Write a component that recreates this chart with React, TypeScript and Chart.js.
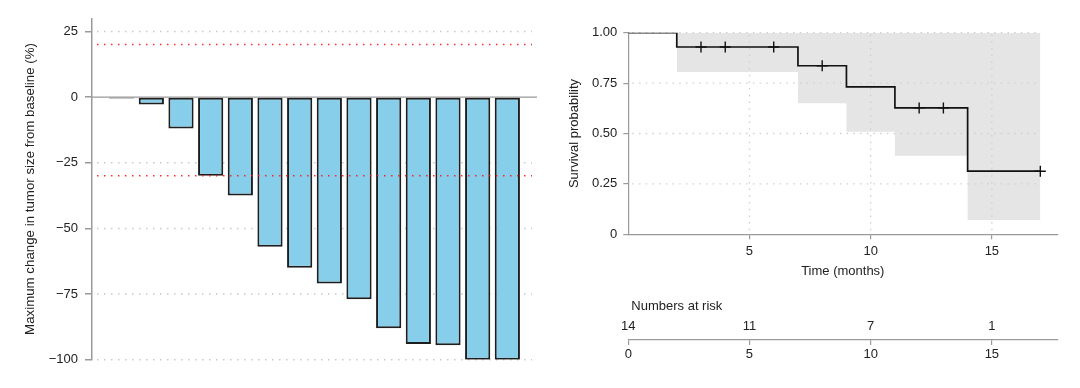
import React, { useEffect, useRef } from 'react';
import { Chart, registerables } from 'chart.js';

Chart.register(...registerables);

const FONT = "'Liberation Sans', Arial, Helvetica, sans-serif";
const TEXT = '#222222';
const AXIS = '#9a9a9a';

// ---------- Waterfall data ----------
const patients = ['1', '2', '3', '4', '5', '6', '7', '8', '9', '10', '11', '12', '13', '14'];
const tumorChange = [-0.5, -2.8, -12, -30, -37.5, -57, -65, -71, -77, -88, -94, -94.5, -100, -100];
const waterfallYTicks = [25, 0, -25, -50, -75, -100];
const waterfallYLabels = ['25', '0', '\u221225', '\u221250', '\u221275', '\u2212100'];
const waterfallGrid = [25, -25, -50, -75, -100];
const thresholdLines = [20, -30];

// ---------- Kaplan-Meier data ----------
const kmTimes = [0, 2, 7, 9, 11, 14, 17];
const kmSurv = [1, 0.929, 0.836, 0.731, 0.627, 0.313, 0.313];
const ciTimes = [2, 7, 9, 11, 14, 17];
const ciUpper = [1, 1, 1, 1, 1, 1];
const ciLower = [0.805, 0.65, 0.509, 0.39, 0.071, 0.071];
const censorTimes = [3, 4, 6, 8, 12, 13, 17];
const censorSurv = [0.929, 0.929, 0.929, 0.836, 0.627, 0.627, 0.313];
const kmXTicks = [5, 10, 15];
const kmYTicks = [0, 0.25, 0.5, 0.75, 1];
const kmYLabels = ['0', '0.25', '0.50', '0.75', '1.00'];
const kmGridX = [5, 10, 15];
const kmGridY = [0.25, 0.5, 0.75, 1];

// ---------- Numbers at risk ----------
const riskTimes = [0, 5, 10, 15];
const riskCounts = [14, 11, 7, 1];
const riskAxisTicks = [0, 5, 10, 15];

const tickFont = { family: FONT, size: 13 };

const waterfallLinesPlugin = {
  id: 'waterfallLines',
  beforeDatasetsDraw(chart: any) {
    const { ctx, chartArea, scales } = chart;
    const y = scales.y;
    ctx.save();
    ctx.lineWidth = 1.5;
    ctx.strokeStyle = '#c9c9c9';
    ctx.setLineDash([1.5, 5.5]);
    for (const v of waterfallGrid) {
      const py = y.getPixelForValue(v);
      ctx.beginPath();
      ctx.moveTo(chartArea.left + 5, py);
      ctx.lineTo(chartArea.right - 5, py);
      ctx.stroke();
    }
    ctx.setLineDash([]);
    ctx.strokeStyle = AXIS;
    ctx.lineWidth = 1.3;
    const p0 = y.getPixelForValue(0);
    ctx.beginPath();
    ctx.moveTo(chartArea.left, p0);
    ctx.lineTo(chartArea.right, p0);
    ctx.stroke();
    ctx.restore();
  },
  afterDatasetsDraw(chart: any) {
    const { ctx, chartArea, scales } = chart;
    const y = scales.y;
    ctx.save();
    ctx.lineWidth = 1.5;
    ctx.strokeStyle = 'rgba(255,20,20,0.9)';
    ctx.setLineDash([1.5, 5.5]);
    for (const v of thresholdLines) {
      const py = y.getPixelForValue(v);
      ctx.beginPath();
      ctx.moveTo(chartArea.left + 5, py);
      ctx.lineTo(chartArea.right - 5, py);
      ctx.stroke();
    }
    ctx.restore();
  },
};

const kmGridPlugin = {
  id: 'kmGrid',
  afterDatasetDraw(chart: any, args: any) {
    if (args.index !== 3) return;
    const { ctx, scales } = chart;
    const x = scales.x;
    const y = scales.y;
    const xEnd = kmTimes[kmTimes.length - 1];
    ctx.save();
    ctx.lineWidth = 1.3;
    ctx.strokeStyle = '#cfcfcf';
    ctx.setLineDash([1.5, 5.2]);
    for (const v of kmGridY) {
      const py = y.getPixelForValue(v);
      ctx.beginPath();
      ctx.moveTo(x.getPixelForValue(0) + 4, py);
      ctx.lineTo(x.getPixelForValue(xEnd), py);
      ctx.stroke();
    }
    for (const v of kmGridX) {
      const px = x.getPixelForValue(v);
      ctx.beginPath();
      ctx.moveTo(px, y.getPixelForValue(0) - 4);
      ctx.lineTo(px, y.getPixelForValue(1));
      ctx.stroke();
    }
    ctx.restore();
  },
};

const riskTextPlugin = {
  id: 'riskText',
  afterDraw(chart: any) {
    const { ctx, scales, chartArea } = chart;
    const x = scales.x;
    ctx.save();
    ctx.font = `13px ${FONT}`;
    ctx.fillStyle = TEXT;
    ctx.textBaseline = 'middle';
    ctx.textAlign = 'left';
    ctx.fillText('Numbers at risk', x.getPixelForValue(0) + 3, chartArea.bottom - 34);
    ctx.textAlign = 'center';
    riskTimes.forEach((t, i) => {
      ctx.fillText(String(riskCounts[i]), x.getPixelForValue(t), chartArea.bottom - 14);
    });
    ctx.restore();
  },
};

function useChart(ref: React.RefObject<HTMLCanvasElement | null>, makeConfig: () => any) {
  useEffect(() => {
    if (!ref.current) return;
    const chart = new Chart(ref.current, makeConfig());
    return () => chart.destroy();
  }, []);
}

export default function App() {
  const waterRef = useRef<HTMLCanvasElement | null>(null);
  const kmRef = useRef<HTMLCanvasElement | null>(null);
  const riskRef = useRef<HTMLCanvasElement | null>(null);

  useChart(waterRef, () => ({
    type: 'bar',
    data: {
      datasets: [
        {
          label: 'Maximum change',
          data: tumorChange.map((v, i) => ({ x: i + 1, y: v, id: patients[i] })),
          backgroundColor: '#87CEEB',
          borderColor: '#1e1e1e',
          borderWidth: 2,
          borderSkipped: false,
          barPercentage: 0.85,
          categoryPercentage: 1,
        },
      ],
    },
    options: {
      animation: false,
      responsive: false,
      events: [],
      layout: { padding: { left: 0, right: 8, top: 18.3, bottom: 28.3 } },
      plugins: { legend: { display: false }, tooltip: { enabled: false } },
      scales: {
        x: { type: 'linear', display: false, min: 0, max: 15, offset: false },
        y: {
          min: -100,
          max: 30,
          afterBuildTicks: (s: any) => {
            s.ticks = waterfallYTicks.map((v) => ({ value: v }));
          },
          afterFit: (s: any) => {
            s.width = 92;
          },
          border: { display: true, color: AXIS, width: 1.5 },
          grid: { display: true, drawOnChartArea: false, drawTicks: true, tickLength: 7, color: AXIS, lineWidth: 1.5 },
          ticks: {
            autoSkip: false,
            padding: 7,
            color: TEXT,
            font: tickFont,
            callback: (value: number) => waterfallYLabels[waterfallYTicks.indexOf(value)] ?? '',
          },
          title: {
            display: true,
            text: 'Maximum change in tumor size from baseline (%)',
            color: TEXT,
            font: { family: FONT, size: 13.3 },
            padding: { top: 22, bottom: 0 },
          },
        },
      },
    },
    plugins: [waterfallLinesPlugin],
  }));

  useChart(kmRef, () => ({
    type: 'line',
    data: {
      datasets: [
        {
          label: 'Survival',
          data: kmTimes.map((t, i) => ({ x: t, y: kmSurv[i] })),
          stepped: true,
          borderColor: '#111111',
          borderWidth: 1.7,
          pointRadius: 0,
          fill: false,
        },
        {
          label: 'Censored',
          data: censorTimes.map((t, i) => ({ x: t, y: censorSurv[i] })),
          showLine: false,
          pointStyle: 'cross',
          pointRadius: 5.5,
          pointBorderColor: '#111111',
          pointBorderWidth: 1.4,
          fill: false,
        },
        {
          label: 'CI upper',
          data: ciTimes.map((t, i) => ({ x: t, y: ciUpper[i] })),
          stepped: true,
          borderColor: 'rgba(0,0,0,0)',
          borderWidth: 1,
          pointRadius: 0,
          fill: false,
        },
        {
          label: 'CI lower',
          data: ciTimes.map((t, i) => ({ x: t, y: ciLower[i] })),
          stepped: true,
          borderColor: 'rgba(0,0,0,0)',
          borderWidth: 1,
          pointRadius: 0,
          fill: '-1',
          backgroundColor: '#e5e5e5',
        },
      ],
    },
    options: {
      animation: false,
      responsive: false,
      events: [],
      layout: { padding: { left: 0, right: 22.7, top: 32.7, bottom: 5.7 } },
      plugins: { legend: { display: false }, tooltip: { enabled: false } },
      scales: {
        x: {
          type: 'linear',
          min: 0,
          max: 17.7,
          afterBuildTicks: (s: any) => {
            s.ticks = kmXTicks.map((v) => ({ value: v }));
          },
          afterFit: (s: any) => {
            s.height = 50;
          },
          border: { display: true, color: AXIS, width: 1.2 },
          grid: { display: true, drawOnChartArea: false, drawTicks: true, tickLength: 5, color: AXIS, lineWidth: 1.2 },
          ticks: { autoSkip: false, maxRotation: 0, padding: 4, color: TEXT, font: tickFont, callback: (v: number) => String(v) },
          title: { display: true, text: 'Time (months)', color: TEXT, font: tickFont, padding: { top: 0, bottom: 5 } },
        },
        y: {
          min: 0,
          max: 1,
          afterBuildTicks: (s: any) => {
            s.ticks = kmYTicks.map((v) => ({ value: v }));
          },
          afterFit: (s: any) => {
            s.width = 88.3;
          },
          border: { display: true, color: AXIS, width: 1.2 },
          grid: { display: true, drawOnChartArea: false, drawTicks: true, tickLength: 5, color: AXIS, lineWidth: 1.2 },
          ticks: {
            autoSkip: false,
            padding: 6,
            color: TEXT,
            font: tickFont,
            callback: (value: number) => kmYLabels[kmYTicks.indexOf(value)] ?? '',
          },
          title: { display: true, text: 'Survival probability', color: TEXT, font: tickFont, padding: { top: 27, bottom: 0 } },
        },
      },
    },
    plugins: [kmGridPlugin],
  }));

  useChart(riskRef, () => ({
    type: 'line',
    data: { datasets: [{ label: 'risk', data: [], pointRadius: 0 }] },
    options: {
      animation: false,
      responsive: false,
      events: [],
      layout: { padding: { left: 88.3, right: 22.7, top: 40, bottom: 0 } },
      plugins: { legend: { display: false }, tooltip: { enabled: false } },
      scales: {
        x: {
          type: 'linear',
          min: 0,
          max: 17.7,
          afterBuildTicks: (s: any) => {
            s.ticks = riskAxisTicks.map((v) => ({ value: v }));
          },
          afterFit: (s: any) => {
            s.height = 48;
          },
          border: { display: true, color: AXIS, width: 1.2 },
          grid: { display: true, drawOnChartArea: false, drawTicks: true, tickLength: 5, color: AXIS, lineWidth: 1.2 },
          ticks: { autoSkip: false, maxRotation: 0, padding: 2, color: TEXT, font: tickFont, callback: (v: number) => String(v) },
        },
        y: { display: false, min: 0, max: 1 },
      },
    },
    plugins: [riskTextPlugin],
  }));

  return (
    <div style={{ position: 'absolute', left: 0, top: 0, width: 1080, height: 388, background: '#ffffff' }}>
      <canvas ref={waterRef} width={545} height={388} style={{ position: 'absolute', left: 0, top: 0 }} />
      <canvas ref={kmRef} width={540} height={290} style={{ position: 'absolute', left: 540, top: 0 }} />
      <canvas ref={riskRef} width={540} height={98} style={{ position: 'absolute', left: 540, top: 290 }} />
    </div>
  );
}
